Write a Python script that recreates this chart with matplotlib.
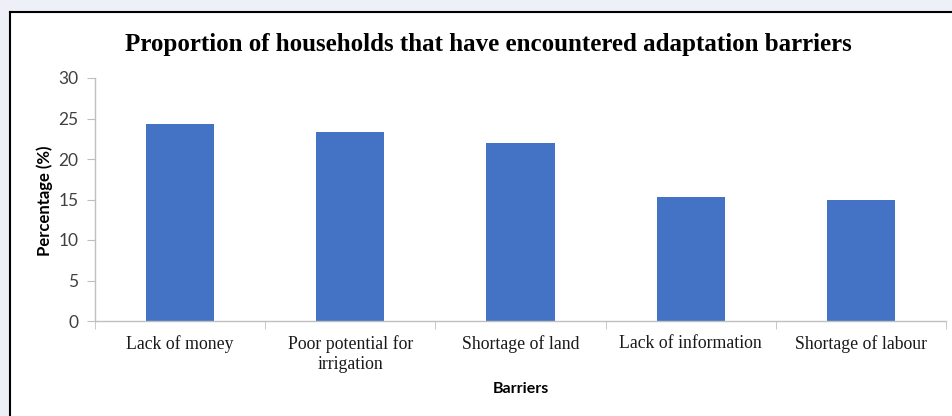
import matplotlib
matplotlib.use("Agg")
import matplotlib.pyplot as plt
from matplotlib.lines import Line2D
from matplotlib.patches import Rectangle

barriers = ["Lack of money", "Poor potential for\nirrigation", "Shortage of land",
            "Lack of information", "Shortage of labour"]
percent = [24.3, 23.3, 22.0, 15.3, 14.9]

W, H = 952, 416
fig = plt.figure(figsize=(W / 100, H / 100), dpi=100)
fig.patch.set_facecolor("#eef0f8")

# white chart area with black border on top and left
x0, y0 = 10 / W, 1 - 12 / H
fig.patches.append(Rectangle((x0, 0), 1 - x0, y0, transform=fig.transFigure,
                             facecolor="white", edgecolor="none", zorder=-5))
fig.lines.append(Line2D([x0, x0], [0, y0], transform=fig.transFigure, color="black", lw=1.5))
fig.lines.append(Line2D([x0, 1], [y0, y0], transform=fig.transFigure, color="black", lw=1.5))

ax = fig.add_axes([95 / W, 1 - 321 / H, (946 - 95) / W, (321 - 78) / H])
ax.set_facecolor("none")

x = list(range(len(barriers)))
ax.bar(x, percent, width=0.4, color="#4472c4", zorder=2)

ax.set_xlim(-0.5, len(barriers) - 0.5)
ax.set_ylim(0, 30)
ax.set_yticks(range(0, 31, 5))

for s in ["top", "right"]:
    ax.spines[s].set_visible(False)
for s in ["left", "bottom"]:
    ax.spines[s].set_color("#bfbfbf")
    ax.spines[s].set_linewidth(1)

ax.set_xticks(x)
ax.set_xticklabels(barriers, family="Liberation Serif", fontsize=12.8, color="#1a1a1a",
                   linespacing=1.25, va="top")
ax.set_xticks([i - 0.5 for i in range(len(barriers) + 1)], minor=True)
ax.tick_params(axis="x", which="major", length=0, pad=10)
ax.tick_params(axis="x", which="minor", length=6, color="#bfbfbf")
ax.tick_params(axis="y", length=6, color="#bfbfbf", labelcolor="#404040", labelsize=12.5, pad=6)
for lab in ax.get_yticklabels():
    lab.set_family("Lato")

fig.text(488 / W, 1 - 44 / H, "Proportion of households that have encountered adaptation barriers",
         ha="center", va="center", family="Liberation Serif", fontweight="bold", fontsize=18)
fig.text(45 / W, 1 - 201 / H, "Percentage (%)", rotation=90, ha="center", va="center",
         family="Lato", fontweight="bold", fontsize=12)
fig.text(521 / W, 1 - 389 / H, "Barriers", ha="center", va="center",
         family="Lato", fontweight="bold", fontsize=11.5)

fig.savefig("out.png", dpi=100, facecolor=fig.get_facecolor())
